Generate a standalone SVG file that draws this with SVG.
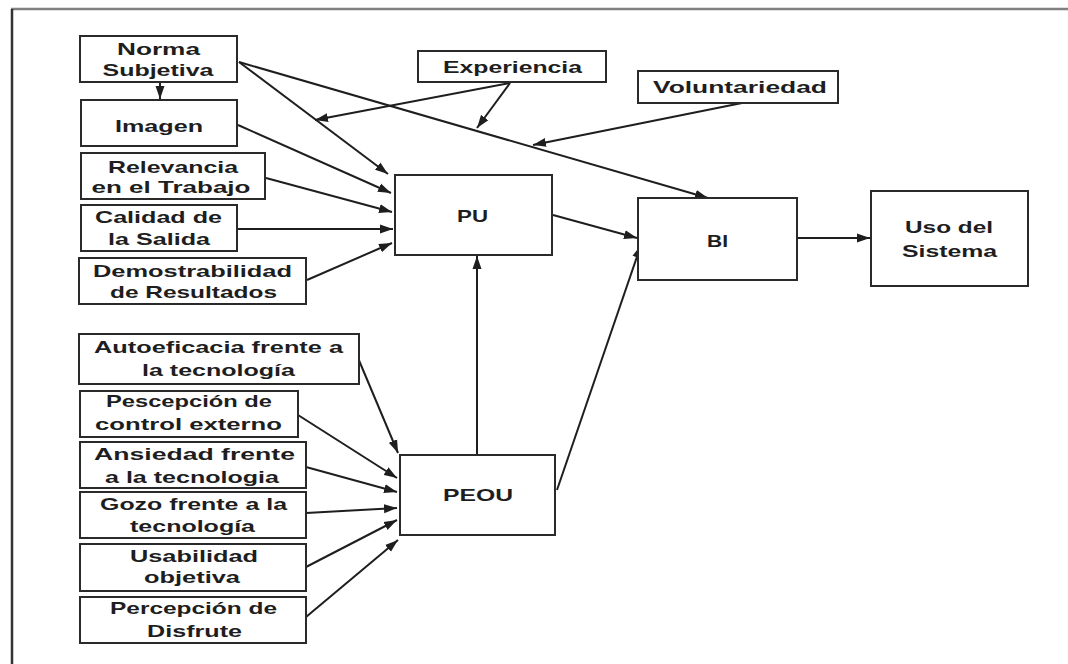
<svg xmlns="http://www.w3.org/2000/svg" width="1068" height="664" viewBox="0 0 1068 664">
<style>
.box{fill:#fff;stroke:#2a2a2a;stroke-width:2}
.t{font-family:"Liberation Sans",Arial,sans-serif;font-weight:bold;font-size:17px;fill:#1e1e1e;text-anchor:middle}
.c{fill:none;stroke:#1e1e1e;stroke-width:2;marker-end:url(#ah)}
</style>
<defs>
<marker id="ah" markerUnits="userSpaceOnUse" markerWidth="14" markerHeight="10" refX="13" refY="5" orient="auto">
<path d="M0,0.5 L13,5 L0,9.5 z" fill="#1e1e1e"/>
</marker>
</defs>
<rect x="0" y="0" width="1068" height="664" fill="#fff"/>
<line x1="11" y1="9" x2="1068" y2="9" stroke="#808080" stroke-width="2.5"/>
<line x1="12" y1="9" x2="12" y2="664" stroke="#333" stroke-width="2.5"/>

<g id="connectors">
<path class="c" d="M239,62 L388,174"/>
<path class="c" d="M239,62 L708,198"/>
<path class="c" d="M510,83 L315,120"/>
<path class="c" d="M510,83 L477,128"/>
<path class="c" d="M742,103 L533,145"/>
<path class="c" d="M238,125 L391,193"/>
<path class="c" d="M266,178 L392,212"/>
<path class="c" d="M238,229 L393,229"/>
<path class="c" d="M307,280 L392,243"/>
<path class="c" d="M553,215 L637,238"/>
<path class="c" d="M477,455 L477,256"/>
<path class="c" d="M557,490 L641,245"/>
<path class="c" d="M797,238 L870,238"/>
<path class="c" d="M160,82 L160,99"/>
<path class="c" d="M358,358 L398,453"/>
<path class="c" d="M298,415 L397,478"/>
<path class="c" d="M306,467 L397,492"/>
<path class="c" d="M306,513 L397,508"/>
<path class="c" d="M306,567 L397,520"/>
<path class="c" d="M306,617 L398,540"/>
</g>

<g id="norma"><rect class="box" x="80" y="36" width="157" height="46"/>
<text class="t" x="158.5" y="55" textLength="83" lengthAdjust="spacingAndGlyphs">Norma</text>
<text class="t" x="158" y="76" textLength="111" lengthAdjust="spacingAndGlyphs">Subjetiva</text></g>

<g id="imagen"><rect class="box" x="81" y="100" width="156" height="46"/>
<text class="t" x="159" y="132" textLength="88" lengthAdjust="spacingAndGlyphs">Imagen</text></g>

<g id="relevancia"><rect class="box" x="81" y="153" width="184" height="46"/>
<text class="t" x="173" y="173" textLength="130" lengthAdjust="spacingAndGlyphs">Relevancia</text>
<text class="t" x="171" y="193" textLength="159" lengthAdjust="spacingAndGlyphs">en el Trabajo</text></g>

<g id="calidad"><rect class="box" x="81" y="205" width="156" height="46"/>
<text class="t" x="158.5" y="223" textLength="127" lengthAdjust="spacingAndGlyphs">Calidad de</text>
<text class="t" x="159" y="245" textLength="102" lengthAdjust="spacingAndGlyphs">la Salida</text></g>

<g id="demostrabilidad"><rect class="box" x="79" y="258" width="227" height="46"/>
<text class="t" x="192.5" y="277" textLength="199" lengthAdjust="spacingAndGlyphs">Demostrabilidad</text>
<text class="t" x="193.5" y="298" textLength="167" lengthAdjust="spacingAndGlyphs">de Resultados</text></g>

<g id="experiencia"><rect class="box" x="418" y="51" width="188" height="31"/>
<text class="t" x="512.5" y="73" textLength="139" lengthAdjust="spacingAndGlyphs">Experiencia</text></g>

<g id="voluntariedad"><rect class="box" x="638" y="71" width="200" height="32"/>
<text class="t" x="740" y="93" textLength="174" lengthAdjust="spacingAndGlyphs">Voluntariedad</text></g>

<g id="pu"><rect class="box" x="395" y="175" width="157" height="80"/>
<text class="t" x="472.5" y="222" textLength="31" lengthAdjust="spacingAndGlyphs">PU</text></g>

<g id="bi"><rect class="box" x="638" y="198" width="159" height="82"/>
<text class="t" x="717.5" y="247" textLength="21" lengthAdjust="spacingAndGlyphs">BI</text></g>

<g id="uso"><rect class="box" x="871" y="191" width="157" height="95"/>
<text class="t" x="949" y="233" textLength="88" lengthAdjust="spacingAndGlyphs">Uso del</text>
<text class="t" x="949.5" y="257" textLength="95" lengthAdjust="spacingAndGlyphs">Sistema</text></g>

<g id="peou"><rect class="box" x="400" y="455" width="155" height="80"/>
<text class="t" x="478" y="501" textLength="70" lengthAdjust="spacingAndGlyphs">PEOU</text></g>

<g id="autoeficacia"><rect class="box" x="79" y="334" width="280" height="50"/>
<text class="t" x="218.5" y="353" textLength="249" lengthAdjust="spacingAndGlyphs">Autoeficacia frente a</text>
<text class="t" x="218.5" y="376" textLength="153" lengthAdjust="spacingAndGlyphs">la tecnología</text></g>

<g id="pescepcion"><rect class="box" x="80" y="391" width="218" height="46"/>
<text class="t" x="189" y="407" textLength="166" lengthAdjust="spacingAndGlyphs">Pescepción de</text>
<text class="t" x="188.5" y="430" textLength="187" lengthAdjust="spacingAndGlyphs">control externo</text></g>

<g id="ansiedad"><rect class="box" x="80" y="442" width="226" height="46"/>
<text class="t" x="194.5" y="460" textLength="201" lengthAdjust="spacingAndGlyphs">Ansiedad  frente</text>
<text class="t" x="192" y="483" textLength="174" lengthAdjust="spacingAndGlyphs">a la tecnologia</text></g>

<g id="gozo"><rect class="box" x="80" y="492" width="226" height="46"/>
<text class="t" x="193.5" y="510" textLength="187" lengthAdjust="spacingAndGlyphs">Gozo frente a la</text>
<text class="t" x="192.5" y="532" textLength="125" lengthAdjust="spacingAndGlyphs">tecnología</text></g>

<g id="usabilidad"><rect class="box" x="80" y="544" width="226" height="47"/>
<text class="t" x="194" y="562" textLength="128" lengthAdjust="spacingAndGlyphs">Usabilidad</text>
<text class="t" x="192" y="583" textLength="96" lengthAdjust="spacingAndGlyphs">objetiva</text></g>

<g id="disfrute"><rect class="box" x="80" y="597" width="226" height="46"/>
<text class="t" x="193.5" y="614" textLength="167" lengthAdjust="spacingAndGlyphs">Percepción de</text>
<text class="t" x="194.5" y="637" textLength="95" lengthAdjust="spacingAndGlyphs">Disfrute</text></g>
</svg>
